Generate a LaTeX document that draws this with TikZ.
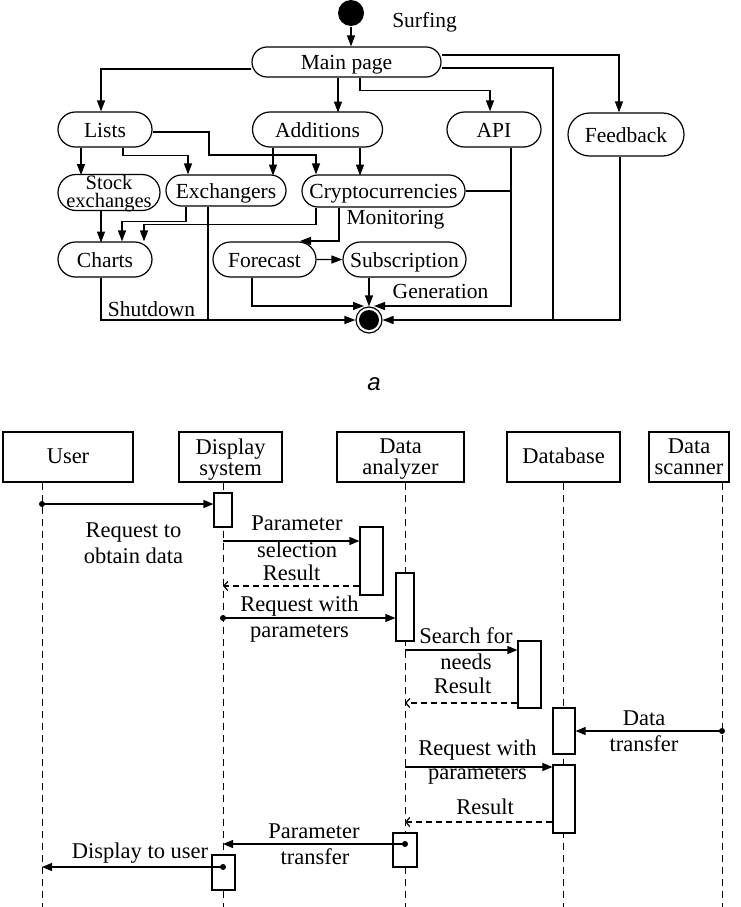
\documentclass[tikz,border=0pt]{standalone}
\usepackage{fontspec}
\setmainfont{Liberation Serif}
\newfontfamily\asans{Liberation Sans}
\usetikzlibrary{arrows.meta,shapes.misc}
\begin{document}
\begin{tikzpicture}[x=1pt,y=-1pt,line width=1.2pt,
  act/.style={rounded rectangle,draw,inner sep=0pt,font=\fontsize{21.5}{15}\selectfont,text height=15pt,text depth=0pt},
  lab/.style={font=\fontsize{21.5}{21.5}\selectfont,anchor=base,inner sep=0pt},
  slab/.style={font=\fontsize{20.5}{20.5}\selectfont,anchor=base,inner sep=0pt},
  blab/.style={font=\fontsize{22.5}{22.5}\selectfont,anchor=base,inner sep=0pt},
  obj/.style={rectangle,draw,inner sep=0pt,minimum height=50pt,font=\fontsize{22.5}{21}\selectfont,text height=13pt,text depth=0pt},
  objtwo/.style={rectangle,draw,inner sep=0pt,minimum height=50pt,align=center,font=\fontsize{22.5}{21}\selectfont,text depth=0pt},
  actv/.style={rectangle,draw,fill=white,inner sep=0pt},
  tri/.style={-{Triangle[length=11pt,width=8pt]}},
  tritwo/.style={-{Triangle[length=10pt,width=8pt]}},
  ret/.style={dash pattern=on 6pt off 4pt,-{Straight Barb[length=4pt,width=9pt]}},
  life/.style={line width=1pt,dash pattern=on 7pt off 5pt},
]
\useasboundingbox (0,0) rectangle (740,907);

% ---------- top activity diagram ----------
\node[circle,fill,minimum size=26pt,inner sep=0pt] (start) at (351,13) {};
\node[lab] (surf) at (424.5,28) {Surfing};
\node[act,minimum width=189pt,minimum height=30pt] (main) at (346.5,62) {Main page};
\node[act,minimum width=94pt,minimum height=35pt] (lists) at (105,129.5) {Lists};
\node[act,minimum width=130pt,minimum height=35pt] (add) at (317.5,129.5) {Additions};
\node[act,minimum width=94pt,minimum height=35pt] (api) at (494,129.5) {API};
\node[act,minimum width=116pt,minimum height=43pt] (fb) at (626,134.5) {Feedback};
\node[rounded rectangle,draw,inner sep=0pt,minimum width=102pt,minimum height=36pt] (se) at (109,192.5) {};
\node[slab] (seA) at (109,189) {Stock};
\node[slab] (seB) at (109,207.5) {exchanges};
\node[act,minimum width=120pt,minimum height=31pt] (ex) at (226,190.5) {Exchangers};
\node[act,minimum width=163pt,minimum height=32pt] (cr) at (383.5,191) {Cryptocurrencies};
\node[act,minimum width=94pt,minimum height=35pt] (ch) at (105,259.5) {Charts};
\node[act,minimum width=103pt,minimum height=35pt] (fc) at (264.5,259.5) {Forecast};
\node[act,minimum width=123pt,minimum height=35pt] (sub) at (404.5,259.5) {Subscription};
\node[circle,draw,minimum size=26pt,inner sep=0pt] (end) at (369,320) {};
\fill (end.center) circle (10pt);

\node[lab] (mon) at (395.5,224) {Monitoring};
\node[lab] (gen) at (440.5,298) {Generation};
\node[lab] (shut) at (151.5,316) {Shutdown};

\coordinate (eTL) at (364,306);
\coordinate (eTR) at (374,306);
\coordinate (apiD) at ([xshift=17pt]api.south);
\coordinate (fcin) at (300,241);
\coordinate (j1) at (553,320);
\coordinate (j2) at (208,320);
\coordinate (k1) at (209,155);

\draw[tri] (start) -- (start |- main.north);
\draw[tri] ([yshift=-7pt]main.west) -| ([xshift=-4pt]lists.north);
\draw[tri] ([xshift=-8.5pt]main.south) -- ++(0,35);
\draw[tri] ([xshift=13.5pt]main.south) -- ++(0,13) -| ([xshift=-4pt]api.north);
\draw[tri] ([yshift=7pt]main.east) -| ([xshift=-7pt]fb.north);
\draw ([yshift=-6pt]main.east) -| (j1);
\draw[tri] ([xshift=-6pt]fb.south) |- (end.east);
\draw[tri] ([xshift=-24pt]lists.south) -- ++(0,27.5);
\draw[tri] ([xshift=18pt]lists.south) -- ++(0,8) -| ([xshift=-38pt]ex.north);
\draw[tri] ([yshift=-2.5pt]lists.east) -| (k1) -| ([xshift=-67.5pt]cr.north);
\draw[tri] ([xshift=-44.5pt]add.south) -- ++(0,28);
\draw[tri] ([xshift=42.5pt]add.south) -- ++(0,28);
\draw (cr.east) -- (cr.east -| apiD);
\draw[tri] (apiD) |- (eTR);
\draw[tri] ([xshift=-8pt]se.south) -- ++(0,31.5);
\draw[tri] ([xshift=-40pt]ex.south) -- ++(0,15) -| ([xshift=17pt]ch.north);
\draw ([xshift=-18pt]ex.south) -- (j2);
\draw[tri] ([xshift=-67.5pt]cr.south) -- ++(0,17) -| ([xshift=39pt]ch.north);
\draw[tri] ([xshift=-44.5pt]cr.south) |- (fcin);
\draw[tri] (fc) -- (sub);
\draw[tri] ([xshift=-12.5pt]fc.south) |- (eTL);
\draw[tri] ([xshift=-35.5pt]sub.south) -- (end.north);
\draw[tri] ([xshift=-4pt]ch.south) |- (end.west);

\node[font=\asans\itshape\fontsize{24}{24}\selectfont,anchor=base,inner sep=0pt] (cap) at (374,390) {a};

% ---------- bottom sequence diagram ----------
\node[obj,minimum width=130pt] (user) at (68,457) {User};
\node[objtwo,minimum width=103pt] (disp) at (230.5,457) {Display\\system};
\node[objtwo,minimum width=127pt] (da) at (400.5,457) {Data\\analyzer};
\node[obj,minimum width=113pt] (db) at (563.5,457) {Database};
\node[objtwo,minimum width=80pt] (ds) at (689,457) {Data\\scanner};

\coordinate (uB) at (42,907);
\coordinate (dB) at (223,907);
\coordinate (aB) at (405,907);
\coordinate (bB) at (563,907);
\coordinate (sB) at (722,907);
\draw[life] (uB |- user.south) -- (uB);
\draw[life] (dB |- disp.south) -- (dB);
\draw[life] (aB |- da.south) -- (aB);
\draw[life] (bB |- db.south) -- (bB);
\draw[life] (sB |- ds.south) -- (sB);

\node[actv,minimum width=18pt,minimum height=34pt] (a1) at (223,510) {};
\node[actv,minimum width=23pt,minimum height=68pt] (a2) at (371.5,561) {};
\node[actv,minimum width=18pt,minimum height=68pt] (a3) at (405,607) {};
\node[actv,minimum width=23pt,minimum height=67pt] (a4) at (529.5,674.5) {};
\node[actv,minimum width=22pt,minimum height=46pt] (a5) at (564,731) {};
\node[actv,minimum width=22pt,minimum height=68pt] (a6) at (564,799) {};
\node[actv,minimum width=24pt,minimum height=34pt] (a7) at (405,850) {};
\node[actv,minimum width=23pt,minimum height=35pt] (a8) at (223.5,872.5) {};

\coordinate (m1) at (42,504);
\coordinate (m2) at (223,541);
\coordinate (m3) at (223,586);
\coordinate (m4) at (223,618);
\coordinate (m5) at (405,650);
\coordinate (m6) at (405,703);
\coordinate (m7) at (722,731);
\coordinate (m8) at (405,767);
\coordinate (m9) at (405,822);
\coordinate (m10) at (405,844);
\coordinate (m11) at (223,867);

\draw[tritwo] (m1) -- (m1 -| a1.west);
\draw[tritwo] (m2) -- (m2 -| a2.west);
\draw[ret] (m3 -| a2.west) -- (m3);
\draw[tritwo] (m4) -- (m4 -| a3.west);
\draw[tritwo] (m5) -- (m5 -| a4.west);
\draw[ret] (m6 -| a4.west) -- (m6);
\draw[tritwo] (m7) -- (m7 -| a5.east);
\draw[tritwo] (m8) -- (m8 -| a6.west);
\draw[ret] (m9 -| a6.west) -- (m9);
\draw[tritwo] (m10) -- (m10 -| dB);
\draw[tritwo] (m11) -- (m11 -| uB);
\foreach \p in {m1,m4,m7,m10,m11} \fill (\p) circle (3pt);

\node[blab] (t1a) at (133.5,537) {Request to};
\node[blab] (t1b) at (133.5,563) {obtain data};
\node[blab] (t2a) at (297,530) {Parameter};
\node[blab] (t2b) at (297,557) {selection};
\node[blab] (t3) at (291.7,580) {Result};
\node[blab] (t4a) at (299.5,611) {Request with};
\node[blab] (t4b) at (299.5,637) {parameters};
\node[blab] (t5a) at (466,643) {Search for};
\node[blab] (t5b) at (466,669) {needs};
\node[blab] (t6) at (462.5,693) {Result};
\node[blab] (t7a) at (644,725) {Data};
\node[blab] (t7b) at (644,751) {transfer};
\node[blab] (t8a) at (477.5,755) {Request with};
\node[blab] (t8b) at (477.5,779) {parameters};
\node[blab] (t9) at (485,814) {Result};
\node[blab] (t10a) at (314,838) {Parameter};
\node[blab] (t10b) at (315,864) {transfer};
\node[blab] (t11) at (140,858) {Display to user};
\end{tikzpicture}
\end{document}
